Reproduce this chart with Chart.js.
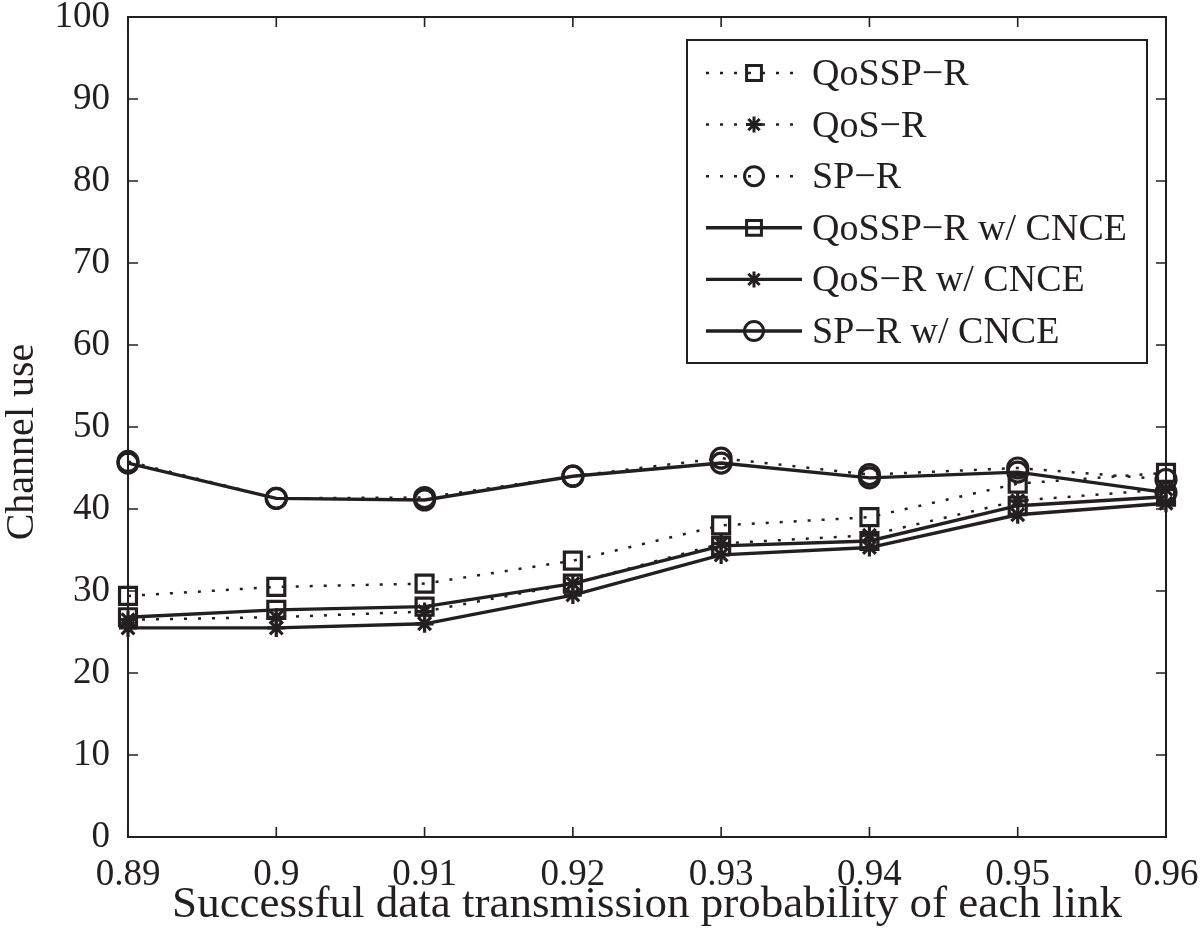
<!DOCTYPE html>
<html>
<head>
<meta charset="utf-8">
<script src="https://cdn.jsdelivr.net/npm/chart.js@4/dist/chart.umd.min.js"></script>
<style>
html,body{margin:0;padding:0;background:#fff;}
#wrap{width:1200px;height:935px;position:relative;}
</style>
</head>
<body>
<div id="wrap"><canvas id="c" width="1200" height="935"></canvas></div>
<script>
const xLabels = ['0.89','0.9','0.91','0.92','0.93','0.94','0.95','0.96'];
const qosspR      = [29.4, 30.5, 30.9, 33.7, 38.0, 39.0, 43.1, 44.4];
const qosR        = [26.5, 26.8, 27.5, 30.9, 35.8, 36.8, 41.0, 42.4];
const spR         = [45.8, 41.3, 41.4, 44.0, 46.2, 44.2, 45.0, 43.6];
const qosspRCnce  = [26.8, 27.7, 28.1, 30.9, 35.5, 36.1, 40.4, 41.5];
const qosRCnce    = [25.5, 25.5, 26.0, 29.5, 34.4, 35.3, 39.3, 40.7];
const spRCnce     = [45.6, 41.3, 41.1, 44.0, 45.6, 43.8, 44.5, 42.0];
const seriesNames = ['QoSSP\u2212R','QoS\u2212R','SP\u2212R','QoSSP\u2212R w/ CNCE','QoS\u2212R w/ CNCE','SP\u2212R w/ CNCE'];
const yTicks = [0,10,20,30,40,50,60,70,80,90,100];
const yTitle = 'Channel use';
const xTitle = 'Successful data transmission probability of each link';

const INK = '#231f20';
const FONT = '"Liberation Serif", "Times New Roman", serif';
const DOT = [3, 11];

function ds(label, data, style, dotted, radius){
  return {
    label, data,
    borderColor: INK, backgroundColor: 'rgba(0,0,0,0)',
    borderWidth: dotted ? 2.5 : 3.4,
    borderDash: dotted ? DOT : [],
    pointStyle: style, pointRadius: radius, pointHoverRadius: radius,
    pointBorderWidth: 3.2, pointBorderColor: INK, pointBackgroundColor: 'rgba(0,0,0,0)',
    tension: 0, fill: false
  };
}

const datasets = [
  ds(seriesNames[0], qosspR, 'rect', true, 12),
  ds(seriesNames[1], qosR, 'star', true, 9),
  ds(seriesNames[2], spR, 'circle', true, 10),
  ds(seriesNames[3], qosspRCnce, 'rect', false, 12),
  ds(seriesNames[4], qosRCnce, 'star', false, 9),
  ds(seriesNames[5], spRCnce, 'circle', false, 10)
];

const boxPlugin = {
  id: 'boxPlugin',
  afterDatasetsDraw(chart){
    const ctx = chart.ctx, a = chart.chartArea;
    const xs = chart.scales.x, ys = chart.scales.y;
    ctx.save();
    ctx.strokeStyle = INK; ctx.lineWidth = 2; ctx.setLineDash([]);
    ctx.strokeRect(a.left, a.top, a.right - a.left, a.bottom - a.top);
    ctx.lineWidth = 1.6;
    const TL = 10;
    ctx.beginPath();
    yTicks.forEach(v => {
      const y = ys.getPixelForValue(v);
      ctx.moveTo(a.left, y); ctx.lineTo(a.left + TL, y);
      ctx.moveTo(a.right, y); ctx.lineTo(a.right - TL, y);
    });
    xLabels.forEach((l, i) => {
      const x = xs.getPixelForValue(i);
      ctx.moveTo(x, a.bottom); ctx.lineTo(x, a.bottom - TL);
      ctx.moveTo(x, a.top); ctx.lineTo(x, a.top + TL);
    });
    ctx.stroke();

    // y axis title
    ctx.save();
    ctx.translate(22, 442);
    ctx.rotate(-Math.PI / 2);
    ctx.fillStyle = INK;
    ctx.font = '40px ' + FONT;
    ctx.textAlign = 'center';
    ctx.textBaseline = 'middle';
    ctx.fillText(yTitle, 0, 0);
    ctx.restore();

    // legend
    const bx = 687, by = 40, bw = 460, bh = 323;
    ctx.fillStyle = '#fff';
    ctx.fillRect(bx, by, bw, bh);
    ctx.lineWidth = 2;
    ctx.strokeRect(bx, by, bw, bh);
    const rowY0 = 73, rowStep = 51.6;
    chart.data.datasets.forEach((d, i) => {
      const y = rowY0 + i * rowStep;
      ctx.save();
      ctx.strokeStyle = INK;
      ctx.lineWidth = d.borderWidth;
      ctx.setLineDash(d.borderDash);
      ctx.beginPath();
      ctx.moveTo(706, y); ctx.lineTo(802, y);
      ctx.stroke();
      ctx.setLineDash([]);
      ctx.lineWidth = 3;
      ctx.fillStyle = 'rgba(0,0,0,0)';
      Chart.helpers.drawPoint(ctx, {pointStyle: d.pointStyle, radius: d.pointStyle==='rect' ? 10.5 : (d.pointStyle==='star' ? 8 : 9.5), rotation: 0, borderWidth: 3}, 754, y);
      ctx.restore();
      ctx.fillStyle = INK;
      ctx.font = '38px ' + FONT;
      ctx.textBaseline = 'middle';
      ctx.textAlign = 'left';
      ctx.fillText(d.label, 812, y + 2);
    });
    ctx.restore();
  }
};

new Chart(document.getElementById('c'), {
  type: 'line',
  data: { labels: xLabels, datasets },
  options: {
    responsive: false,
    animation: false,
    devicePixelRatio: 1,
    layout: { padding: { left: 0, right: 34, top: 17, bottom: 0 } },
    plugins: { legend: { display: false }, tooltip: { enabled: false } },
    scales: {
      x: {
        type: 'category',
        offset: false,
        grid: { display: false },
        border: { display: false },
        ticks: { color: INK, font: { family: FONT, size: 37 }, padding: 8, maxRotation: 0, autoSkip: false },
        title: { display: true, text: xTitle, color: INK, font: { family: FONT, size: 45 }, padding: { top: 0, bottom: 3 } },
        afterFit(s){ s.height = 98; s.paddingLeft = 0; s.paddingRight = 0; }
      },
      y: {
        min: 0, max: 100,
        grid: { display: false },
        border: { display: false },
        ticks: { stepSize: 10, color: INK, font: { family: FONT, size: 37 }, padding: 10 },
        title: { display: false },
        afterFit(s){ s.width = 128; s.paddingTop = 0; s.paddingBottom = 0; }
      }
    }
  },
  plugins: [boxPlugin]
});
</script>
</body>
</html>
